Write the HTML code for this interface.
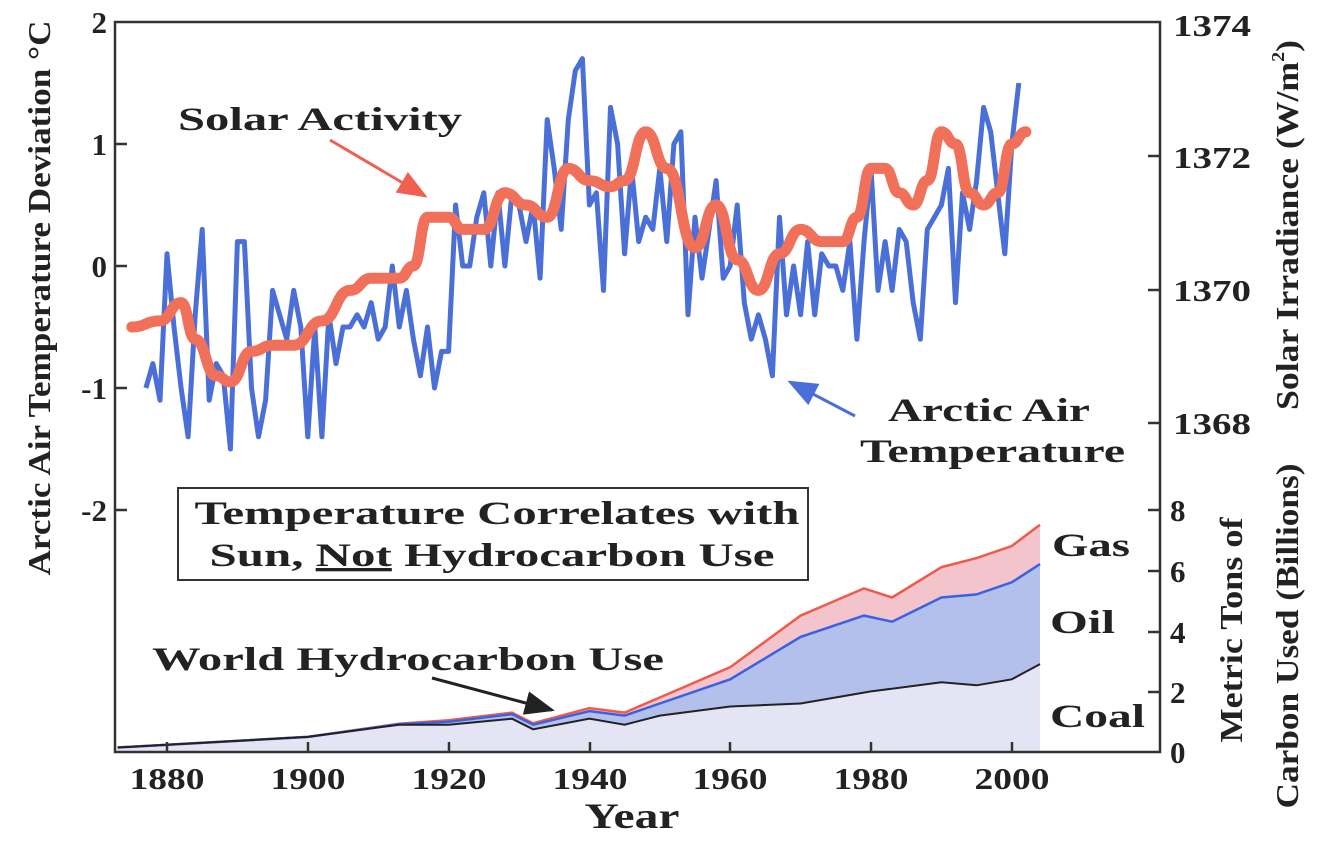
<!DOCTYPE html>
<html><head><meta charset="utf-8"><style>
html,body{margin:0;padding:0;background:#fff;}
svg{display:block;font-family:"Liberation Serif",serif;font-weight:bold;}
</style></head><body>
<svg id="s" width="1324" height="842" viewBox="0 0 1324 842">
<defs>
<marker id="ar" markerWidth="10" markerHeight="8" refX="9" refY="4" orient="auto"><path d="M0,0 L10,4 L0,8 z" fill="#f06050"/></marker>
<marker id="ab" markerWidth="10" markerHeight="8" refX="9" refY="4" orient="auto"><path d="M0,0 L10,4 L0,8 z" fill="#4a6fd8"/></marker>
<marker id="ak" markerWidth="10" markerHeight="8" refX="9" refY="4" orient="auto"><path d="M0,0 L10,4 L0,8 z" fill="#222"/></marker>
</defs>
<g id="data"></g>
<rect x="115" y="22" width="1045" height="730" fill="none" stroke="#333" stroke-width="2.5"/>
<g stroke="#333" stroke-width="2.5">
<line x1="115" y1="144" x2="127" y2="144"/><line x1="115" y1="266" x2="127" y2="266"/><line x1="115" y1="388" x2="127" y2="388"/><line x1="115" y1="510" x2="127" y2="510"/>
<line x1="1148" y1="156" x2="1160" y2="156"/><line x1="1148" y1="290" x2="1160" y2="290"/><line x1="1148" y1="423" x2="1160" y2="423"/>
<line x1="1148" y1="510" x2="1160" y2="510"/><line x1="1148" y1="571" x2="1160" y2="571"/><line x1="1148" y1="632" x2="1160" y2="632"/><line x1="1148" y1="692" x2="1160" y2="692"/>
<line x1="167" y1="752" x2="167" y2="742"/><line x1="308" y1="752" x2="308" y2="742"/><line x1="449" y1="752" x2="449" y2="742"/><line x1="590" y1="752" x2="590" y2="742"/><line x1="730" y1="752" x2="730" y2="742"/><line x1="871" y1="752" x2="871" y2="742"/><line x1="1012" y1="752" x2="1012" y2="742"/>
</g>
<g font-size="31" fill="#222" text-anchor="end">
<text x="107" y="33">2</text><text x="107" y="155">1</text><text x="107" y="277">0</text><text x="107" y="399">-1</text><text x="107" y="521">-2</text>
</g>
<g font-size="31" fill="#222">
<text x="1173" y="36" textLength="78" lengthAdjust="spacingAndGlyphs">1374</text><text x="1173" y="168" textLength="78" lengthAdjust="spacingAndGlyphs">1372</text><text x="1173" y="301" textLength="78" lengthAdjust="spacingAndGlyphs">1370</text><text x="1173" y="434" textLength="78" lengthAdjust="spacingAndGlyphs">1368</text>
<text x="1170" y="521">8</text><text x="1170" y="582">6</text><text x="1170" y="643">4</text><text x="1170" y="703">2</text><text x="1170" y="763">0</text>
</g>
<g font-size="31" fill="#222" text-anchor="middle">
<text x="167" y="789" textLength="75" lengthAdjust="spacingAndGlyphs">1880</text><text x="308" y="789" textLength="75" lengthAdjust="spacingAndGlyphs">1900</text><text x="449" y="789" textLength="75" lengthAdjust="spacingAndGlyphs">1920</text><text x="590" y="789" textLength="75" lengthAdjust="spacingAndGlyphs">1940</text><text x="730" y="789" textLength="75" lengthAdjust="spacingAndGlyphs">1960</text><text x="871" y="789" textLength="75" lengthAdjust="spacingAndGlyphs">1980</text><text x="1012" y="789" textLength="75" lengthAdjust="spacingAndGlyphs">2000</text>
<text x="632" y="828" font-size="36" textLength="95" lengthAdjust="spacingAndGlyphs">Year</text>
</g>
<text transform="translate(50,298) rotate(-90)" font-size="32" fill="#222" text-anchor="middle" textLength="555" lengthAdjust="spacingAndGlyphs">Arctic Air Temperature Deviation °C</text>
<text transform="translate(1298,225) rotate(-90)" font-size="32" fill="#222" text-anchor="middle" textLength="370" lengthAdjust="spacingAndGlyphs">Solar Irradiance (W/m<tspan dy="-14" font-size="18">2</tspan><tspan dy="14">)</tspan></text>
<text transform="translate(1242,630) rotate(-90)" font-size="32" fill="#222" text-anchor="middle" textLength="225" lengthAdjust="spacingAndGlyphs">Metric Tons of</text>
<text transform="translate(1298,636) rotate(-90)" font-size="32" fill="#222" text-anchor="middle" textLength="345" lengthAdjust="spacingAndGlyphs">Carbon Used (Billions)</text>
<g font-size="33" fill="#222" lengthAdjust="spacingAndGlyphs">
<text x="178" y="130" textLength="284" lengthAdjust="spacingAndGlyphs">Solar Activity</text>
<text x="888" y="421" textLength="202" lengthAdjust="spacingAndGlyphs">Arctic Air</text>
<text x="860" y="462" textLength="265" lengthAdjust="spacingAndGlyphs">Temperature</text>
<text x="152" y="670" textLength="512" lengthAdjust="spacingAndGlyphs">World Hydrocarbon Use</text>
<text x="1052" y="556" textLength="78" lengthAdjust="spacingAndGlyphs">Gas</text>
<text x="1050" y="633" textLength="65" lengthAdjust="spacingAndGlyphs">Oil</text>
<text x="1050" y="727" textLength="95" lengthAdjust="spacingAndGlyphs">Coal</text>
</g>
<rect x="178" y="488" width="630" height="92" fill="#fff" stroke="#333" stroke-width="2"/>
<g font-size="33" fill="#222" text-anchor="middle">
<text x="497" y="524" textLength="605" lengthAdjust="spacingAndGlyphs">Temperature Correlates with</text>
<text x="492" y="566" textLength="565" lengthAdjust="spacingAndGlyphs">Sun, <tspan text-decoration="underline">Not</tspan> Hydrocarbon Use</text>
</g>
<line x1="330" y1="140" x2="425" y2="196" stroke="#f06050" stroke-width="3" marker-end="url(#ar)"/>
<line x1="855" y1="416" x2="790" y2="382" stroke="#4a6fd8" stroke-width="3" marker-end="url(#ab)"/>
<line x1="432" y1="678" x2="552" y2="710" stroke="#222" stroke-width="3" marker-end="url(#ak)"/>
</svg>
<script>
function X(y){return 167+(y-1880)*7.04;}
function YT(v){return 266-v*122;}
function YC(v){return 752-v*30.3;}
var temp=[-1.0,-0.8,-1.1,0.1,-0.5,-1.0,-1.4,-0.4,0.3,-1.1,-0.8,-0.9,-1.5,0.2,0.2,-1.0,-1.4,-1.1,-0.2,-0.4,-0.6,-0.2,-0.5,-1.4,-0.5,-1.4,-0.4,-0.8,-0.5,-0.5,-0.4,-0.5,-0.3,-0.6,-0.5,0.0,-0.5,-0.2,-0.6,-0.9,-0.5,-1.0,-0.7,-0.7,0.5,0.0,0.0,0.4,0.6,0.0,0.6,0.0,0.6,0.5,0.2,0.5,-0.1,1.2,0.8,0.3,1.2,1.6,1.7,0.5,0.6,-0.2,1.3,1.0,0.1,0.8,0.2,0.4,0.3,0.8,0.2,1.0,1.1,-0.4,0.4,-0.1,0.3,0.7,-0.1,0.0,0.5,-0.3,-0.6,-0.4,-0.6,-0.9,0.4,-0.4,0.0,-0.4,0.2,-0.4,0.1,0.0,0.0,-0.2,0.2,-0.6,0.2,0.8,-0.2,0.2,-0.2,0.3,0.2,-0.3,-0.6,0.3,0.4,0.5,0.8,-0.3,0.6,0.3,0.7,1.3,1.1,0.6,0.1,1.0,1.5];
var solar=[[1875,-0.5],[1879,-0.45],[1882,-0.3],[1884,-0.6],[1887,-0.9],[1889,-0.95],[1892,-0.7],[1895,-0.65],[1898,-0.65],[1902,-0.45],[1906,-0.2],[1909,-0.1],[1913,-0.1],[1915,0.0],[1917,0.4],[1920,0.4],[1922,0.3],[1925,0.3],[1928,0.6],[1931,0.5],[1934,0.4],[1937,0.8],[1940,0.7],[1943,0.65],[1945,0.7],[1948,1.1],[1951,0.8],[1955,0.15],[1958,0.5],[1961,0.05],[1964,-0.2],[1967,0.1],[1970,0.3],[1973,0.2],[1976,0.2],[1978,0.4],[1980,0.8],[1982,0.8],[1984,0.6],[1986,0.5],[1988,0.7],[1990,1.1],[1992,1.0],[1994,0.6],[1996,0.5],[1998,0.6],[2000,1.0],[2002,1.1]];
var coal=[[1873,0.15],[1900,0.5],[1913,0.9],[1920,0.9],[1929,1.1],[1932,0.75],[1940,1.1],[1945,0.9],[1950,1.2],[1960,1.5],[1970,1.6],[1980,2.0],[1990,2.3],[1995,2.2],[2000,2.4],[2004,2.9]];
var oil=[[1873,0.15],[1900,0.5],[1913,0.92],[1920,1.0],[1929,1.25],[1932,0.9],[1940,1.35],[1945,1.2],[1950,1.6],[1960,2.4],[1970,3.8],[1979,4.5],[1983,4.3],[1990,5.1],[1995,5.2],[2000,5.6],[2004,6.2]];
var gas=[[1873,0.15],[1900,0.5],[1913,0.93],[1920,1.05],[1929,1.3],[1932,0.95],[1940,1.45],[1945,1.3],[1950,1.8],[1960,2.8],[1970,4.5],[1979,5.4],[1983,5.1],[1990,6.1],[1995,6.4],[2000,6.8],[2004,7.5]];
function pts(a){return a.map(function(p){return X(p[0]).toFixed(1)+","+YC(p[1]).toFixed(1);}).join(" ");}
function area(a){var s=pts(a);return X(a[0][0])+",752 "+s+" "+X(a[a.length-1][0])+",752";}
var h='';
h+='<polygon points="'+area(gas)+'" fill="#f4c4cc"/>';
h+='<polygon points="'+area(oil)+'" fill="#b4c0ec"/>';
h+='<polygon points="'+area(coal)+'" fill="#e4e4f4"/>';
h+='<polyline points="'+pts(gas)+'" fill="none" stroke="#f05a4a" stroke-width="2.5"/>';
h+='<polyline points="'+pts(oil)+'" fill="none" stroke="#3a62e0" stroke-width="2.5"/>';
h+='<polyline points="'+pts(coal)+'" fill="none" stroke="#222" stroke-width="2"/>';
var t=temp.map(function(v,i){return X(1877+i).toFixed(1)+","+YT(v).toFixed(1);}).join(" ");
h+='<polyline points="'+t+'" fill="none" stroke="#4a70d8" stroke-width="5" stroke-linejoin="round"/>';
var d="M"+X(solar[0][0])+","+YT(solar[0][1]);
for(var i=1;i<solar.length;i++){var p0=solar[i-1],p1=solar[i];var mx=(X(p0[0])+X(p1[0]))/2;d+=" C"+mx+","+YT(p0[1])+" "+mx+","+YT(p1[1])+" "+X(p1[0])+","+YT(p1[1]);}
h+='<path d="'+d+'" fill="none" stroke="#f0705a" stroke-width="11" stroke-linecap="round" stroke-linejoin="round"/>';
document.getElementById("data").innerHTML=h;
</script>
</body></html>
